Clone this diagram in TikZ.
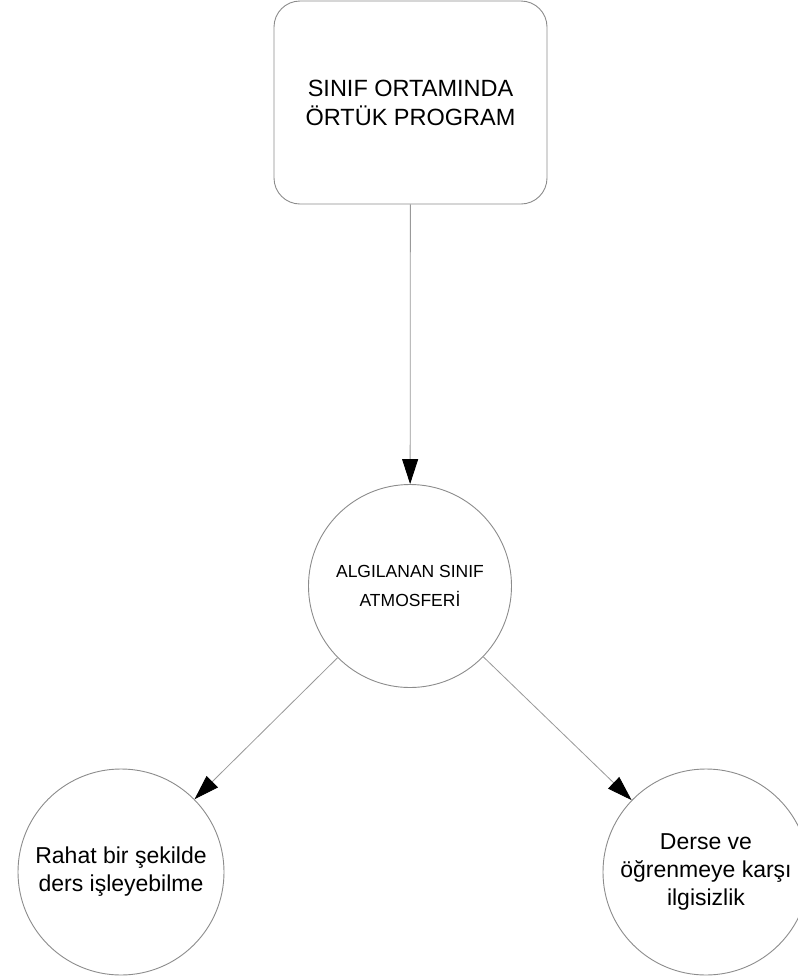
\documentclass[tikz,border=0pt]{standalone}
\usepackage{fontspec}
\setmainfont{Liberation Sans}
\usetikzlibrary{arrows.meta}
\begin{document}
\begin{tikzpicture}[x=1pt,y=-1pt,
  shapeline/.style={draw=black!45, line width=0.9pt},
  boxnode/.style={shapeline, rounded corners=26pt, minimum width=273pt, minimum height=203pt, align=center, font=\fontsize{23.5}{29}\selectfont},
  circnode/.style={shapeline, circle, minimum size=#1, inner sep=0pt, align=center},
  conn/.style={draw=black!40, line width=0.8pt, -{Triangle[length=25pt,width=16pt,color=black]}}
]
\useasboundingbox (0,0) rectangle (798,978);
\fill[white] (0,0) rectangle (798,978);
\node[boxnode] (top) at (410.5,102.5) {SINIF ORTAMINDA\\ÖRTÜK PROGRAM};
\node[circnode=203pt, font=\fontsize{17.5}{29}\selectfont] (mid) at (410,586) {ALGILANAN SINIF\\ATMOSFERİ};
\node[circnode=206pt, font=\fontsize{23}{28}\selectfont] (left) at (121,872) {Rahat bir şekilde\\ders işleyebilme};
\node[circnode=206pt, font=\fontsize{23}{28}\selectfont] (right) at (706,872) {Derse ve\\öğrenmeye karşı\\ilgisizlik};
\draw[conn] (top) -- (mid);
\draw[conn] (mid) -- (left);
\draw[conn] (mid) -- (right);
\end{tikzpicture}
\end{document}
